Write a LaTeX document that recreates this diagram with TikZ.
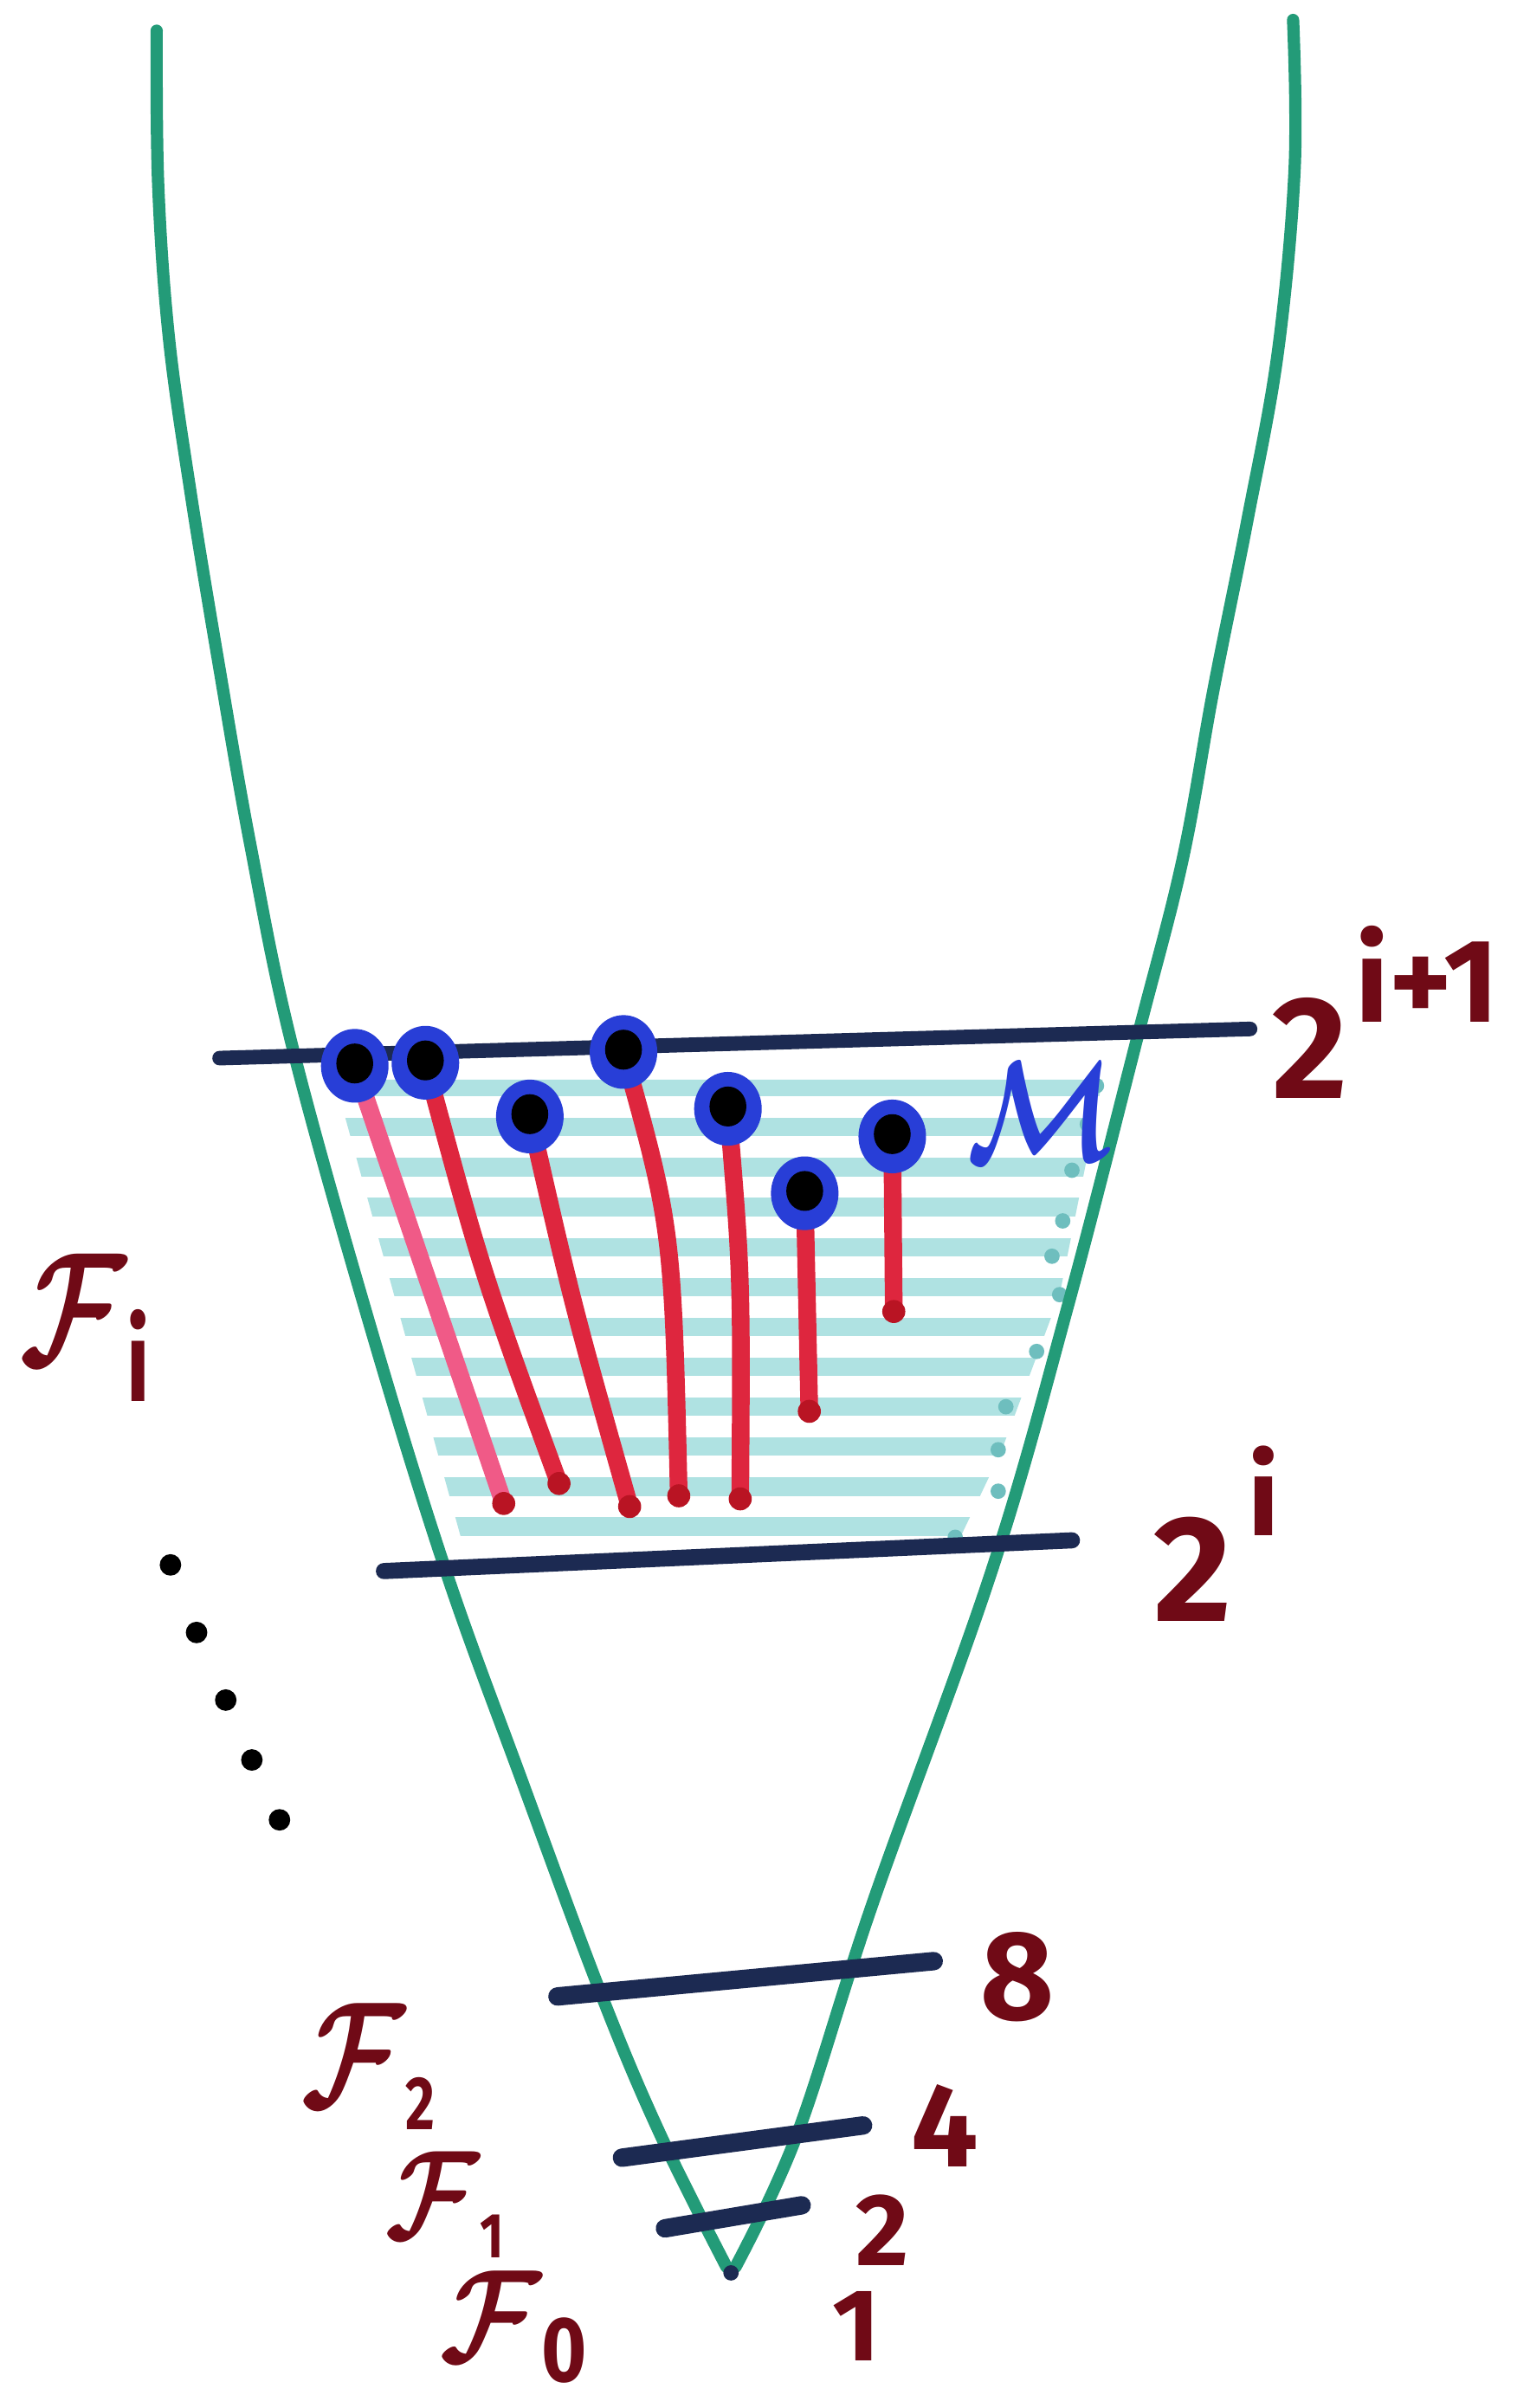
\documentclass[tikz,border=0pt]{standalone}
\usepackage{amsmath}
\usepackage{fontspec}
\setmainfont{Fira Sans}
\definecolor{funnel}{RGB}{35,155,120}
\definecolor{bar}{RGB}{28,42,82}
\definecolor{lab}{RGB}{112,10,22}
\definecolor{blobblue}{RGB}{40,62,215}
\definecolor{redline}{RGB}{222,38,62}
\definecolor{pinkline}{RGB}{240,90,135}
\definecolor{enddot}{RGB}{185,20,35}
\definecolor{stripe}{RGB}{175,226,226}
\definecolor{stripedot}{RGB}{110,190,190}
\begin{document}
\begin{tikzpicture}[x=0.02cm,y=-0.02cm,
  funnelline/.style={draw=funnel,line width=0.16cm,line cap=round,line join=round},
  levelbar/.style={draw=bar,line width=0.24cm,line cap=round},
  stick/.style={draw=redline,line width=0.23cm,line cap=round},
  lbl/.style={text=lab,inner sep=0pt,anchor=base west},
  flbl/.style={text=lab,inner sep=0pt,anchor=base west}]
\useasboundingbox[fill=white] (0,0) rectangle (996,1568);

% shaded band
\begin{scope}
  \clip (218,703) -- (302,1008) -- (622,1008) -- (652,945) -- (690,843) -- (718,703) -- cycle;
  \foreach \y in {708,734,...,1000}
    \draw[stripe,line width=0.24cm] (150,\y) -- (800,\y);
\end{scope}
\foreach \p in {(714,707),(708,732),(698,762),(692,795),(685,818),(690,843),(675,880),(655,916),(650,944),(650,971),(622,1001)}
  \fill[stripedot] \p circle (5);

% funnel
\draw[funnelline] plot[smooth,tension=0.6] coordinates {(102,20) (103,120) (110,220) (124,320) (142,430) (163,550) (190,680) (240,860) (290,1022) (340,1160) (392,1300) (430,1390) (473,1476)};
\draw[funnelline] plot[smooth,tension=0.6] coordinates {(842,13) (843,110) (832,230) (812,340) (790,450) (770,560) (741,674) (696,848) (646,1022) (568,1240) (519,1390) (479,1476)};
\fill[bar] (476,1480) circle (5);

% level bars
\draw[levelbar,line width=0.19cm] (143,689) -- (814,670);
\draw[levelbar,line width=0.21cm] (250,1023) -- (698,1003);
\draw[levelbar] (363,1300) -- (608,1277);
\draw[levelbar] (405,1405) -- (562,1384);
\draw[levelbar] (433,1451) -- (522,1436);

% sticks
\coordinate (c1) at (231,694); \coordinate (e1) at (328,979);
\coordinate (c2) at (277,692); \coordinate (e2) at (364,966);
\coordinate (c3) at (345,727); \coordinate (e3) at (410,981);
\coordinate (c4) at (406,685); \coordinate (e4) at (442,974);
\coordinate (c5) at (474,722); \coordinate (e5) at (482,976);
\coordinate (c6) at (524,777); \coordinate (e6) at (527,919);
\coordinate (c7) at (581,740); \coordinate (e7) at (582,854);
\draw[stick,draw=pinkline] (c1) -- (e1);
\draw[stick] (c2) .. controls (314,829) .. (e2);
\draw[stick] (c3) .. controls (373,850) .. (e3);
\draw[stick] (c4) .. controls (438,800) .. (e4);
\draw[stick] (c5) .. controls (483,830) .. (e5);
\draw[stick] (c6) -- (e6);
\draw[stick] (c7) -- (e7);
\foreach \e in {e1,e2,e3,e4,e5,e6,e7}
  \fill[enddot] (\e) circle (7.5);
\foreach \c in {c1,c2,c3,c4,c5,c6,c7}{
  \fill[blobblue] (\c) ellipse [x radius=22, y radius=24];
  \fill[black] ([yshift=0.03cm]\c) ellipse [x radius=12, y radius=13];
}

% labels
\node[lbl,font=\fontsize{54}{54}\selectfont\bfseries] (l21) at (828,715) {2\hspace{3pt}\raisebox{28pt}{\fontsize{44}{44}\selectfont\bfseries i+1}};
\node[lbl,font=\fontsize{56}{56}\selectfont\bfseries] (l2i) at (751,1056) {2\hspace{6pt}\raisebox{32pt}{\fontsize{41}{41}\selectfont\bfseries i}};
\node[lbl,font=\fontsize{47}{47}\selectfont\bfseries] (l8) at (638,1315) {8};
\node[lbl,font=\fontsize{44}{44}\selectfont\bfseries] (l4) at (593,1411) {4};
\node[lbl,font=\fontsize{38}{38}\selectfont\bfseries] (l2) at (557,1475) {2};
\node[lbl,font=\fontsize{38}{38}\selectfont\bfseries] (l1) at (542,1537) {1};
\node[text=blobblue,inner sep=0pt,anchor=base west,xscale=4,yscale=5.3] (m) at (628,756) {$\boldsymbol{\mathcal{M}}$};
\node[flbl,xscale=4.3,yscale=6] (fi) at (12,889) {$\boldsymbol{\mathcal{F}}_{\textbf{i}}$};
\node[flbl,xscale=4.2,yscale=5.6] (f2) at (195,1372) {$\boldsymbol{\mathcal{F}}_{\scriptscriptstyle\textbf{2}}$};
\node[flbl,xscale=3.8,yscale=4.7] (f1) at (250,1458) {$\boldsymbol{\mathcal{F}}_{\scriptscriptstyle\textbf{1}}$};
\node[flbl,xscale=4.1,yscale=4.9] (f0) at (285,1538) {$\boldsymbol{\mathcal{F}}_{\textbf{0}}$};

% dots
\foreach \p in {(111,1019),(128,1063),(147,1107),(164,1146),(182,1185)}
  \fill[black] \p circle (7);
\end{tikzpicture}
\end{document}
